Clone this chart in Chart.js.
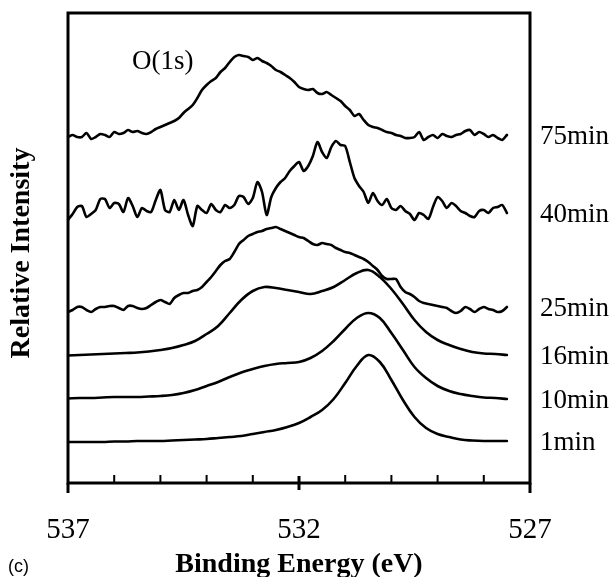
<!DOCTYPE html>
<html lang="en">
<head>
<meta charset="UTF-8">
<title>O(1s) XPS spectra</title>
<script src="https://cdn.jsdelivr.net/npm/chart.js"></script>
<style>
    html, body { margin: 0; padding: 0; background: #fff; }
    #wrap { width: 612px; height: 577px; }
</style>
</head>
<body>
<div id="wrap"><canvas id="xps" width="612" height="577"></canvas></div>
<script>
// binding energy grids (eV)
const energyFine = [537.0,536.9,536.8,536.7,536.6,536.5,536.4,536.3,536.2,536.1,
    536.0,535.9,535.8,535.7,535.6,535.5,535.4,535.3,535.2,535.1,
    535.0,534.9,534.8,534.7,534.6,534.5,534.4,534.3,534.2,534.1,
    534.0,533.9,533.8,533.7,533.6,533.5,533.4,533.3,533.2,533.1,
    533.0,532.9,532.8,532.7,532.6,532.5,532.4,532.3,532.2,532.1,
    532.0,531.9,531.8,531.7,531.6,531.5,531.4,531.3,531.2,531.1,
    531.0,530.9,530.8,530.7,530.6,530.5,530.4,530.3,530.2,530.1,
    530.0,529.9,529.8,529.7,529.6,529.5,529.4,529.3,529.2,529.1,
    529.0,528.9,528.8,528.7,528.6,528.5,528.4,528.3,528.2,528.1,
    528.0,527.9,527.8,527.7,527.6,527.5];
const energyCoarse = [537.0,536.75,536.5,536.25,536.0,535.75,535.5,535.25,535.0,534.75,
    534.5,534.25,534.0,533.75,533.5,533.25,533.0,532.75,532.5,532.25,
    532.0,531.75,531.5,531.25,531.0,530.75,530.5,530.25,530.0,529.75,
    529.5,529.25,529.0,528.75,528.5,528.25,528.0,527.75,527.5];

// stacked intensities (arb. units, offsets included)
const min1 = [41,41,41,41,41.5,41.5,42,42,42,42.5,
    43,43.5,44,45,46,47,49,51,53,56,
    60,66,73,84,100,117,128,121,103,83,
    66,55,49,46,43.5,42.5,42,42,42];
const min10 = [84.5,85,85,85.5,86,86,86,86.5,87,88,
    90,93,97,101,106,110.5,114,117,119,120,
    121,125,132,142,154,165,170,165,150,133,
    116,105,97,92,89,87,85.5,85,84];
const min16 = [127.5,128,128.5,129,129.5,130,130.5,131.5,133,135,
    138,142,149,157,170,183,192,196,195,193,
    191,189,192,196,203,210,213,206,194,179,
    163,151,143,138,134,131,129.5,129,128];
const min25 = [171,173,176,176,173,171,174,176,176,177,
    177,175,173,177,177,175,174,175,178,181,
    183,181,179,185,188,190,190,192,193,196,
    201,206,212,218,222,224,231,239,243,247,
    249,251,252,254,255,256,254,252,250,248,
    246,245,242,239,238,240,239,238,235,233,
    231,230,228,226,224,221,217,213,207,204,
    204,204,196,191,189,186,182,180,179,178,
    177,176,175,172,170,172,176,174,171,174,
    176,174,173,171,172,176];
const min40 = [263,269,276,277,266,269,273,284,284,275,
    280,279,271,285,277,266,275,272,271,283,
    293,273,271,283,273,283,268,257,277,273,
    270,279,273,271,278,275,278,287,286,279,
    285,301,291,268,286,295,301,305,312,317,
    321,312,317,327,341,331,325,336,342,338,
    337,321,305,297,291,280,290,282,278,284,
    275,273,277,272,269,263,270,268,264,276,
    286,282,275,280,277,272,270,267,266,272,
    273,270,275,276,278,270];
const min75 = [346,348,346,346,350,344,346,349,348,346,
    351,349,350,353,351,352,350,349,351,354,
    356,358,360,362,365,370,374,378,385,393,
    398,402,405,411,415,421,426,428,427,426,
    423,425,422,420,417,413,411,408,405,401,
    396,394,393,394,390,389,391,388,385,382,
    377,373,367,369,363,358,356,355,353,351,
    350,348,347,345,345,346,351,343,346,348,
    345,349,347,346,348,349,352,353,348,351,
    349,346,348,345,343,348];

const seriesNames = ['1min', '10min', '16min', '25min', '40min', '75min'];
const tickLabels = [537, 532, 527];
const minorTicks = [536, 535, 534, 533, 531, 530, 529, 528];

const toPoints = (xs, ys) => ys.map((y, i) => ({ x: xs[i], y: y }));

const serif = "'Liberation Serif', 'Times New Roman', serif";

// frame, ticks and text labels
const decorations = {
    id: 'decorations',
    afterDatasetsDraw(chart) {
        const { ctx, chartArea: a, scales } = chart;
        const xs = scales.x, ys = scales.y;
        ctx.save();
        ctx.strokeStyle = '#000';
        ctx.lineWidth = 3;
        ctx.lineCap = 'butt';
        ctx.strokeRect(a.left, a.top, a.right - a.left, a.bottom - a.top);
        // outer ends of frame
        ctx.beginPath();
        ctx.moveTo(a.left, a.bottom); ctx.lineTo(a.left, a.bottom + 10);
        ctx.moveTo(a.right, a.bottom); ctx.lineTo(a.right, a.bottom + 10);
        const mid = xs.getPixelForValue(tickLabels[1]);
        ctx.moveTo(mid, a.bottom - 7); ctx.lineTo(mid, a.bottom + 7);
        ctx.stroke();
        ctx.lineWidth = 2;
        ctx.beginPath();
        minorTicks.forEach(v => {
            const px = xs.getPixelForValue(v);
            ctx.moveTo(px, a.bottom); ctx.lineTo(px, a.bottom - 8);
        });
        ctx.stroke();

        ctx.fillStyle = '#000';
        ctx.textBaseline = 'middle';
        ctx.textAlign = 'left';
        ctx.font = '27px ' + serif;
        chart.data.datasets.forEach((ds, i) => {
            const pts = chart.getDatasetMeta(i).data;
            const last = pts[pts.length - 1];
            ctx.fillText(ds.label, a.right + 10, last.y + 2);
        });

        ctx.textAlign = 'center';
        ctx.fillText('O(1s)', xs.getPixelForValue(534.95), ys.getPixelForValue(421));

        ctx.font = 'bold 28px ' + serif;
        ctx.fillText('Binding Energy (eV)', (a.left + a.right) / 2, 565);

        ctx.save();
        ctx.translate(22, (a.top + a.bottom) / 2 + 5);
        ctx.rotate(-Math.PI / 2);
        ctx.fillText('Relative Intensity', 0, 0);
        ctx.restore();

        ctx.font = "18px 'Liberation Sans', Arial, sans-serif";
        ctx.textAlign = 'left';
        ctx.fillText('(c)', 8, 567);
        ctx.restore();
    }
};

const allSeries = [
    [energyCoarse, min1], [energyCoarse, min10], [energyCoarse, min16],
    [energyFine, min25], [energyFine, min40], [energyFine, min75]
];

new Chart(document.getElementById('xps'), {
    type: 'line',
    data: {
        datasets: allSeries.map((s, i) => ({
            label: seriesNames[i],
            data: toPoints(s[0], s[1]),
            borderColor: '#000',
            borderWidth: 2.6,
            pointRadius: 0,
            tension: i < 3 ? 0.4 : 0.25,
            fill: false
        }))
    },
    options: {
        responsive: false,
        animation: false,
        layout: { padding: { top: 13, right: 82, left: 68, bottom: 0 } },
        plugins: { legend: { display: false }, tooltip: { enabled: false } },
        elements: { line: { borderJoinStyle: 'round', borderCapStyle: 'round' } },
        scales: {
            x: {
                type: 'linear',
                reverse: true,
                min: 527,
                max: 537,
                afterBuildTicks: s => { s.ticks = tickLabels.map(v => ({ value: v })); },
                afterFit: s => { s.height = 94; },
                grid: { display: false, drawTicks: false },
                border: { display: false },
                ticks: {
                    padding: 30,
                    color: '#000',
                    font: { family: serif, size: 29 },
                    maxRotation: 0
                }
            },
            y: { display: false, min: 0, max: 470 }
        }
    },
    plugins: [decorations]
});
</script>
</body>
</html>
